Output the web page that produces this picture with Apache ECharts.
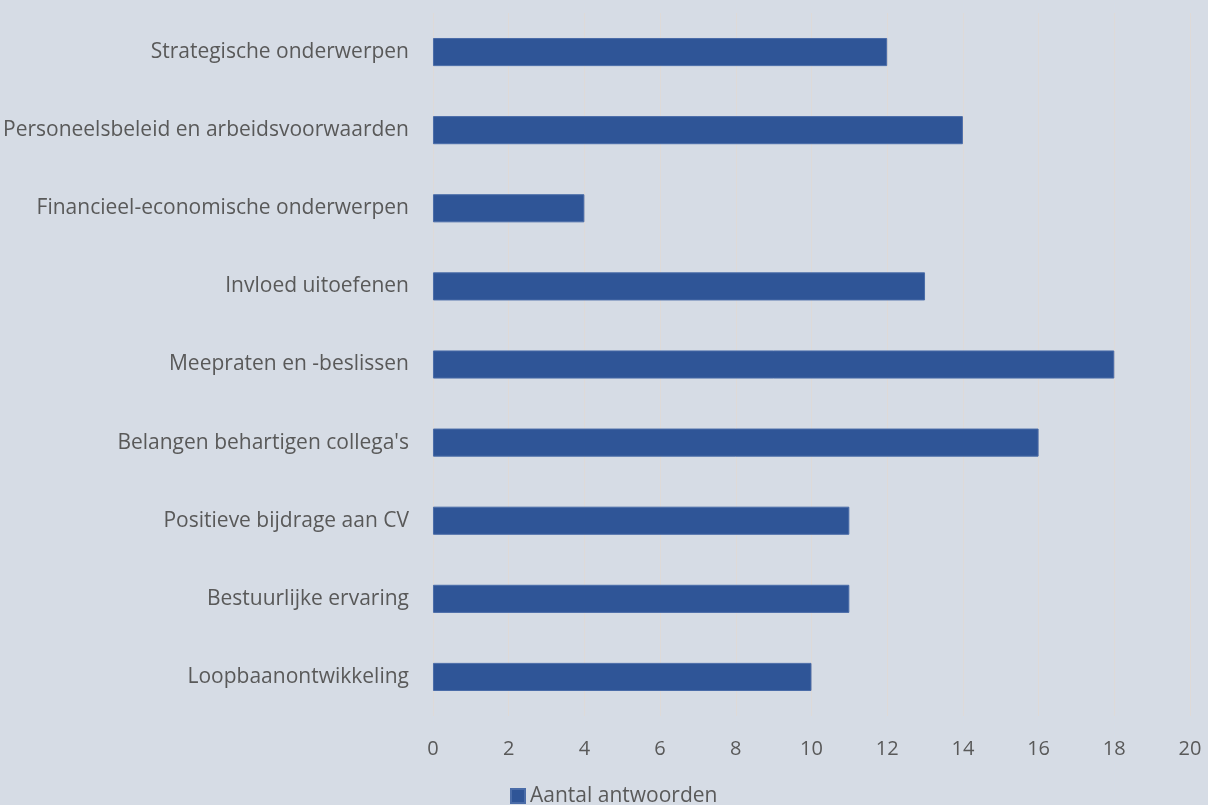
<!DOCTYPE html>
<html><head><meta charset="utf-8">
<script src="https://cdn.jsdelivr.net/npm/echarts@6/dist/echarts.min.js"></script>
<style>html,body{margin:0;padding:0;background:#d6dce5;}#c{width:1208px;height:805px;}</style>
</head><body><div id="c"></div>
<script>
const categories = ["Strategische onderwerpen","Personeelsbeleid en arbeidsvoorwaarden","Financieel-economische onderwerpen","Invloed uitoefenen","Meepraten en -beslissen","Belangen behartigen collega's","Positieve bijdrage aan CV","Bestuurlijke ervaring","Loopbaanontwikkeling"];
const values = [12,14,4,13,18,16,11,11,10];
const xTicks = {min:0, max:20, interval:2};
const seriesName = "Aantal antwoorden";
const chart = echarts.init(document.getElementById('c'), null, {renderer:'canvas'});
const font = "'Open Sans', sans-serif";
chart.setOption({
  backgroundColor:'#d6dce5',
  animation:false,
  grid:{left:432,right:18,top:13,bottom:89,containLabel:false},
  legend:{data:[seriesName],left:510,top:785,itemWidth:14,itemHeight:14,itemGap:6,icon:'rect',padding:0,
    textStyle:{color:'#595959',fontSize:21,lineHeight:22,fontFamily:font,padding:[0,0,0,0]}},
  xAxis:{type:'value',min:xTicks.min,max:xTicks.max,interval:xTicks.interval,
    axisLine:{show:false},axisTick:{show:false},
    axisLabel:{color:'#595959',fontSize:20,fontFamily:font,margin:23},
    splitLine:{show:true,lineStyle:{color:'#dedad8',width:1}}},
  yAxis:{type:'category',data:categories,inverse:true,
    axisLine:{show:false},axisTick:{show:false},
    axisLabel:{color:'#595959',fontSize:21,fontFamily:font,margin:24}},
  series:[{name:seriesName,type:'bar',data:values,barWidth:'36%',
    itemStyle:{color:'#2f5597',borderColor:'#4a6ca8',borderWidth:1}}]
});
</script></body></html>
